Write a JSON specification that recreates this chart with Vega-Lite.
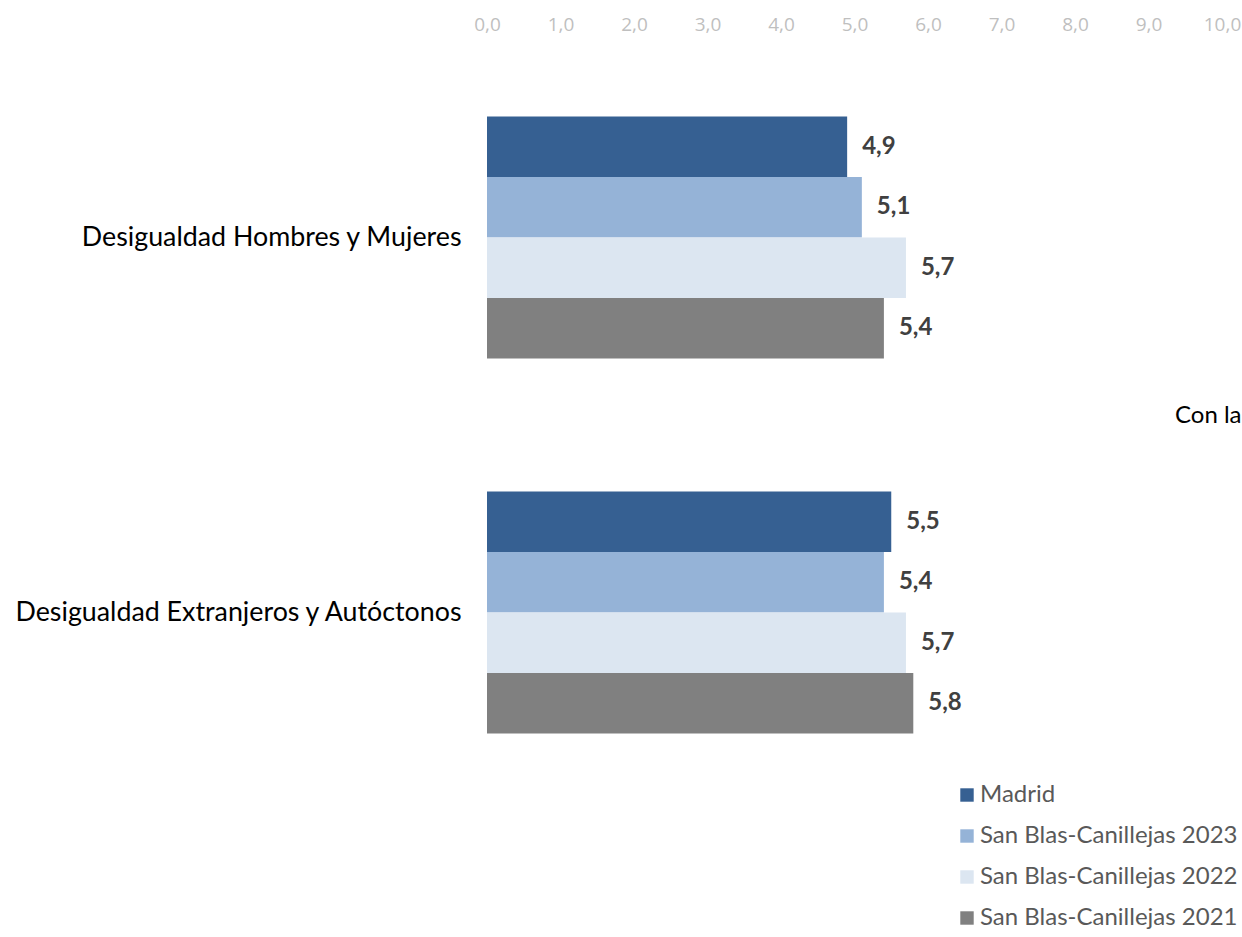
{
  "$schema": "https://vega.github.io/schema/vega-lite/v6.json",
  "autosize": "none",
  "width": 735,
  "height": 750,
  "padding": {"left": 487, "top": 50, "right": 20, "bottom": 137},
  "background": "white",
  "config": {
    "view": {"stroke": null},
    "font": "Lato",
    "locale": {"number": {"decimal": ",", "thousands": ".", "grouping": [3], "currency": ["", " €"]}}
  },
  "title": {
    "text": "Con la",
    "orient": "top",
    "frame": "group",
    "anchor": "end",
    "align": "left",
    "baseline": "middle",
    "offset": 0,
    "dx": -47,
    "dy": 425,
    "fontSize": 24,
    "fontWeight": "normal",
    "color": "#000000",
    "font": "Lato"
  },
  "data": {
    "values": [
      {"categoria": "Desigualdad Hombres y Mujeres", "serie": "Madrid", "valor": 4.9},
      {"categoria": "Desigualdad Hombres y Mujeres", "serie": "San Blas-Canillejas 2023", "valor": 5.1},
      {"categoria": "Desigualdad Hombres y Mujeres", "serie": "San Blas-Canillejas 2022", "valor": 5.7},
      {"categoria": "Desigualdad Hombres y Mujeres", "serie": "San Blas-Canillejas 2021", "valor": 5.4},
      {"categoria": "Desigualdad Extranjeros y Autóctonos", "serie": "Madrid", "valor": 5.5},
      {"categoria": "Desigualdad Extranjeros y Autóctonos", "serie": "San Blas-Canillejas 2023", "valor": 5.4},
      {"categoria": "Desigualdad Extranjeros y Autóctonos", "serie": "San Blas-Canillejas 2022", "valor": 5.7},
      {"categoria": "Desigualdad Extranjeros y Autóctonos", "serie": "San Blas-Canillejas 2021", "valor": 5.8}
    ]
  },
  "encoding": {
    "y": {
      "field": "categoria",
      "type": "nominal",
      "sort": ["Desigualdad Hombres y Mujeres", "Desigualdad Extranjeros y Autóctonos"],
      "scale": {"paddingInner": 0.355, "paddingOuter": 0.1775},
      "axis": {
        "title": null,
        "domain": false,
        "ticks": false,
        "labelPadding": 26,
        "labelFontSize": 26.8,
        "labelColor": "#000000",
        "labelFont": "Lato",
        "labelLimit": 600
      }
    },
    "yOffset": {
      "field": "serie",
      "type": "nominal",
      "scale": {"domain": ["Madrid", "San Blas-Canillejas 2023", "San Blas-Canillejas 2022", "San Blas-Canillejas 2021"], "paddingInner": 0, "paddingOuter": 0}
    },
    "x": {
      "field": "valor",
      "type": "quantitative",
      "scale": {"domain": [0, 10], "nice": false},
      "axis": {
        "orient": "top",
        "title": null,
        "values": [0, 1, 2, 3, 4, 5, 6, 7, 8, 9, 10],
        "format": ".1f",
        "domain": false,
        "ticks": false,
        "grid": false,
        "labelFlush": false,
        "labelOverlap": false,
        "labelColor": "#bfbfbf",
        "labelFontSize": 19,
        "labelFont": "Open Sans",
        "labelPadding": 16
      }
    }
  },
  "layer": [
    {
      "mark": {"type": "bar", "cornerRadius": 0},
      "encoding": {
        "color": {
          "field": "serie",
          "type": "nominal",
          "scale": {
            "domain": ["Madrid", "San Blas-Canillejas 2023", "San Blas-Canillejas 2022", "San Blas-Canillejas 2021"],
            "range": ["#366092", "#95b3d7", "#dce6f1", "#808080"]
          },
          "legend": {
            "title": null,
            "orient": "none",
            "legendX": 468,
            "legendY": 733,
            "symbolType": "square",
            "symbolSize": 180,
            "symbolStrokeWidth": 0,
            "labelFontSize": 24,
            "labelColor": "#595959",
            "labelFont": "Lato",
            "labelLimit": 400,
            "labelOffset": 1,
            "rowPadding": 17
          }
        }
      }
    },
    {
      "mark": {"type": "text", "align": "left", "baseline": "middle", "dx": 15, "fontSize": 24, "fontWeight": "bold", "color": "#404040", "font": "Lato"},
      "encoding": {
        "text": {"field": "valor", "type": "quantitative", "format": ".1f"}
      }
    }
  ]
}
